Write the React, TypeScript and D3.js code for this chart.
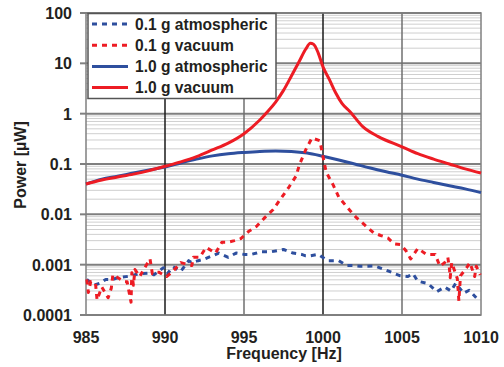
import * as d3 from 'd3';

// frequency [Hz] / power [uW]
const atm01Freq = [985.05, 985.5, 985.9, 986.25, 986.7, 987.0, 987.9, 988.3, 989.0, 989.3, 989.9, 990.15, 990.5, 991.0, 991.5, 991.7, 992.1, 992.5, 993.0, 993.4, 994.0, 994.5, 995.0, 995.45, 995.8, 996.1, 996.7, 997.5, 998.1, 998.65, 998.9, 999.2, 999.7, 1000.3, 1001.0, 1001.5, 1001.9, 1002.35, 1002.8, 1003.3, 1003.9, 1004.9, 1005.35, 1005.7, 1006.0, 1006.65, 1007.2, 1007.7, 1008.1, 1008.4, 1008.9, 1009.25, 1009.7];
const atm01Power = [0.00051, 0.00039, 0.00043, 0.00051, 0.00051, 0.00055, 0.0006, 0.00066, 0.00068, 0.00063, 0.00087, 0.00066, 0.00091, 0.00074, 0.0012, 0.0011, 0.0012, 0.0013, 0.0015, 0.0017, 0.0014, 0.0017, 0.0016, 0.0016, 0.0017, 0.0018, 0.0018, 0.002, 0.0017, 0.0016, 0.0015, 0.0015, 0.0016, 0.0012, 0.0012, 0.00096, 0.00096, 0.00093, 0.00093, 0.00094, 0.0008, 0.0006, 0.00058, 0.00066, 0.00047, 0.00042, 0.00029, 0.00036, 0.0003, 0.00043, 0.00027, 0.00031, 0.00022];

const vac01Freq = [985.05, 985.15, 985.3, 985.6, 985.7, 986.0, 986.4, 986.6, 986.7, 986.9, 987.4, 987.6, 987.85, 987.9, 988.0, 988.1, 988.4, 988.7, 989.05, 989.2, 989.5, 989.6, 990.1, 990.5, 991.0, 991.7, 991.8, 992.2, 992.6, 993.2, 993.6, 994.0, 994.4, 994.8, 995.3, 995.8, 996.3, 996.85, 997.3, 997.8, 998.3, 998.5, 998.9, 999.3, 999.8, 1000.0, 1000.2, 1000.65, 1001.0, 1001.6, 1002.1, 1002.6, 1003.2, 1003.65, 1004.1, 1004.5, 1004.9, 1005.25, 1005.55, 1006.0, 1006.55, 1007.1, 1007.4, 1007.7, 1007.9, 1008.0, 1008.05, 1008.15, 1008.5, 1008.6, 1008.7, 1009.1, 1009.3, 1009.6, 1009.7, 1009.95];
const vac01Power = [0.00051, 0.00028, 0.00046, 0.00043, 0.0002, 0.00036, 0.00022, 0.00034, 0.00063, 0.00058, 0.00046, 0.00046, 0.00018, 0.00069, 0.00039, 0.0008, 0.00058, 0.00085, 0.0013, 0.00066, 0.00071, 0.00071, 0.00058, 0.00074, 0.0011, 0.00096, 0.0014, 0.0014, 0.0022, 0.0017, 0.0028, 0.0028, 0.003, 0.0033, 0.0046, 0.0058, 0.0085, 0.0125, 0.02, 0.033, 0.058, 0.095, 0.19, 0.33, 0.29, 0.14, 0.069, 0.038, 0.022, 0.013, 0.0087, 0.0063, 0.0043, 0.0038, 0.0034, 0.0026, 0.0025, 0.0019, 0.0013, 0.0021, 0.0016, 0.0016, 0.00093, 0.0011, 0.0014, 0.00085, 0.00055, 0.0011, 0.00053, 0.00019, 0.0006, 0.00088, 0.0011, 0.00058, 0.00093, 0.00063];

const atm10Freq = [985, 986, 987, 988, 989, 990, 991, 992, 993, 994, 995, 996, 997, 998, 999, 1000, 1001, 1002, 1003, 1004, 1005, 1006, 1007, 1008, 1009, 1010];
const atm10Power = [0.04, 0.05, 0.057, 0.066, 0.076, 0.087, 0.105, 0.125, 0.145, 0.16, 0.17, 0.178, 0.182, 0.178, 0.165, 0.142, 0.12, 0.1, 0.083, 0.07, 0.06, 0.05, 0.043, 0.037, 0.032, 0.027];

const vac10Freq = [985, 985.5, 986, 987, 988, 989, 990, 991, 992, 993, 994, 995, 996, 996.5, 997, 997.5, 998, 998.5, 998.9, 999.2, 999.4, 999.7, 1000, 1000.4, 1000.8, 1001.2, 1001.7, 1002.5, 1003.5, 1005, 1006, 1007, 1008, 1009, 1010];
const vac10Power = [0.04, 0.044, 0.048, 0.055, 0.063, 0.074, 0.09, 0.11, 0.14, 0.19, 0.26, 0.4, 0.75, 1.1, 1.7, 2.9, 5.6, 11, 19, 25, 24, 16, 8.5, 4.8, 2.6, 1.6, 1.1, 0.56, 0.35, 0.22, 0.16, 0.125, 0.1, 0.08, 0.066];

const xTicks = [985, 990, 995, 1000, 1005, 1010];
const yTicks = [0.0001, 0.001, 0.01, 0.1, 1, 10, 100];
const yTickLabels = ['0.0001', '0.001', '0.01', '0.1', '1', '10', '100'];

const RED = '#ed1c24';
const BLUE = '#2e4f9e';

const W = 504;
const H = 367;
const left = 86;
const right = 481;
const top = 13;
const bottom = 315;

const series = [
  { name: '0.1 g atmospheric', freq: atm01Freq, power: atm01Power, color: BLUE, dash: '5 5' },
  { name: '0.1 g vacuum', freq: vac01Freq, power: vac01Power, color: RED, dash: '5 5' },
  { name: '1.0 g atmospheric', freq: atm10Freq, power: atm10Power, color: BLUE, dash: null },
  { name: '1.0 g vacuum', freq: vac10Freq, power: vac10Power, color: RED, dash: null },
];

export default function App() {
  const x = d3.scaleLinear().domain([985, 1010]).range([left, right]);
  const y = d3.scaleLog().domain([0.0001, 100]).range([bottom, top]);

  // minor grid: 2..9 in each decade
  const minor: number[] = [];
  for (let e = -4; e < 2; e++) {
    for (let m = 2; m <= 9; m++) minor.push(m * Math.pow(10, e));
  }

  const font = 'Arial, "Liberation Sans", Helvetica, sans-serif';
  const ink = '#231f20';

  const lineFor = (freq: number[], power: number[], smooth: boolean) => {
    const pts = freq.map((f, i) => [f, power[i]] as [number, number]);
    return d3
      .line<[number, number]>()
      .x((d) => x(d[0]))
      .y((d) => y(d[1]))
      .curve(smooth ? d3.curveMonotoneX : d3.curveLinear)(pts) || '';
  };

  const order = [0, 2, 1, 3];

  return (
    <div style={{ position: 'absolute', left: 0, top: 0 }}>
      <svg width={W} height={H} style={{ display: 'block', background: '#fff' }}>
        <g>
          {minor.map((v, i) => (
            <line key={'mn' + i} x1={left} x2={right} y1={y(v)} y2={y(v)} stroke="#cfcfcf" strokeWidth={1} />
          ))}
          {yTicks.map((v, i) => (
            <line key={'mj' + i} x1={left} x2={right} y1={y(v)} y2={y(v)} stroke="#7f7f7f" strokeWidth={2} />
          ))}
          {xTicks.slice(1, -1).map((v, i) => (
            <line key={'vx' + i} x1={x(v)} x2={x(v)} y1={top} y2={bottom} stroke={v % 10 === 0 ? '#1a1a1a' : '#6f6f6f'} strokeWidth={1.5} />
          ))}
          <rect x={left} y={top} width={right - left} height={bottom - top} fill="none" stroke="#808080" strokeWidth={1.5} />
          {yTicks.map((v, i) => (
            <line key={'yt' + i} x1={left - 6} x2={left} y1={y(v)} y2={y(v)} stroke="#808080" strokeWidth={2} />
          ))}
        </g>

        <g>
          {order.map((k) => {
            const s = series[k];
            return (
              <path
                key={s.name}
                d={lineFor(s.freq, s.power, !s.dash)}
                fill="none"
                stroke={s.color}
                strokeWidth={3}
                strokeDasharray={s.dash || undefined}
                strokeLinejoin="round"
              />
            );
          })}
        </g>

        <g fontFamily={font} fontWeight="bold" fontSize={16} fill={ink}>
          {yTicks.map((v, i) => (
            <text key={'yl' + i} x={72} y={y(v) + 6} textAnchor="end">
              {yTickLabels[i]}
            </text>
          ))}
          {xTicks.map((v, i) => (
            <text key={'xl' + i} x={x(v)} y={343} textAnchor="middle">
              {v}
            </text>
          ))}
          <text x={284} y={359} textAnchor="middle">
            Frequency [Hz]
          </text>
          <text transform={`translate(26,${165}) rotate(-90)`} textAnchor="middle">
            Power [µW]
          </text>
        </g>

        <g>
          <rect x={88} y={13.5} width={188} height={85} fill="#fff" stroke="#555" strokeWidth={1.5} />
          {series.map((s, i) => {
            const ly = 24 + i * 21.2;
            return (
              <g key={'lg' + i}>
                <line x1={92} x2={128} y1={ly} y2={ly} stroke={s.color} strokeWidth={3} strokeDasharray={s.dash || undefined} />
                <text x={135} y={ly + 5.5} fontFamily={font} fontWeight="bold" fontSize={15.6} fill={ink}>
                  {s.name}
                </text>
              </g>
            );
          })}
        </g>
      </svg>
    </div>
  );
}
